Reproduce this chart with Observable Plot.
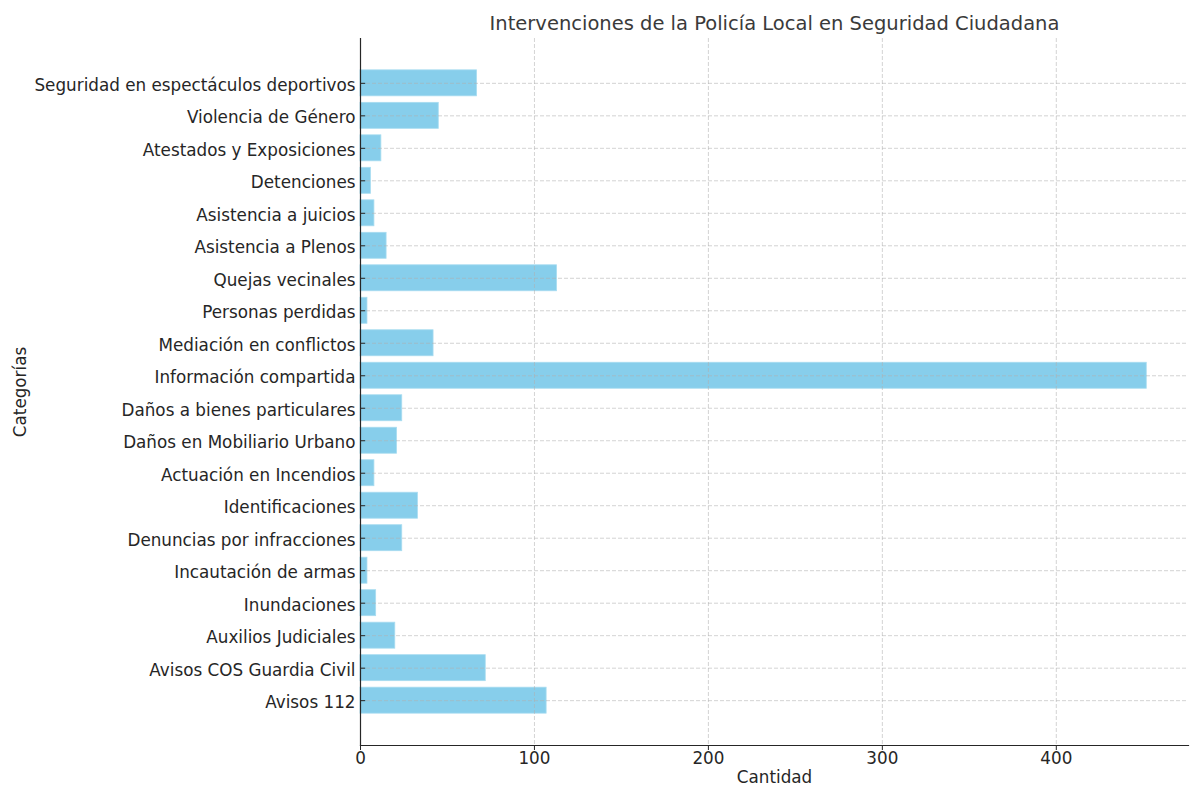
<!DOCTYPE html>
<html>
<head>
<meta charset="utf-8">
<script src="https://cdn.jsdelivr.net/npm/d3@7"></script>
<script src="https://cdn.jsdelivr.net/npm/@observablehq/plot@0.6"></script>
<style>
  html, body { margin: 0; padding: 0; background: #fff; }
  #chart { width: 1190px; height: 786px; }
</style>
</head>
<body>
<div id="chart"></div>
<script>
const categories = [
  "Seguridad en espectáculos deportivos",
  "Violencia de Género",
  "Atestados y Exposiciones",
  "Detenciones",
  "Asistencia a juicios",
  "Asistencia a Plenos",
  "Quejas vecinales",
  "Personas perdidas",
  "Mediación en conflictos",
  "Información compartida",
  "Daños a bienes particulares",
  "Daños en Mobiliario Urbano",
  "Actuación en Incendios",
  "Identificaciones",
  "Denuncias por infracciones",
  "Incautación de armas",
  "Inundaciones",
  "Auxilios Judiciales",
  "Avisos COS Guardia Civil",
  "Avisos 112"
];
const values = [67, 45, 12, 6, 8, 15, 113, 4, 42, 452, 24, 21, 8, 33, 24, 4, 9, 20, 72, 107];
const xTicks = [0, 100, 200, 300, 400];
const title = "Intervenciones de la Policía Local en Seguridad Ciudadana";
const xLabel = "Cantidad";
const yLabel = "Categorías";

const data = categories.map((c, i) => ({category: c, value: values[i]}));

const font = "DejaVu Sans, sans-serif";
const gridStyle = {stroke: "#b0b0b0", strokeOpacity: 0.7, strokeDasharray: "4,2", strokeWidth: 0.8};

const chart = Plot.plot({
  width: 1190,
  height: 786,
  marginTop: 38,
  marginBottom: 41,
  marginLeft: 360,
  marginRight: 2,
  style: {fontFamily: font, fontSize: "16.8px", color: "#262626", background: "#fff"},
  x: {domain: [0, 476]},
  y: {domain: categories, paddingInner: 0.2, paddingOuter: 0.98, round: false},
  marks: [
    Plot.barX(data, {y: "category", x: "value", fill: "#87CEEB", stroke: "#a8dcf0", strokeWidth: 0.8}),
    Plot.gridX({ticks: xTicks.slice(1), ...gridStyle}),
    Plot.gridY({...gridStyle}),
    Plot.axisX({ticks: xTicks, tickSize: 5, tickPadding: 2, fontSize: 16.8, label: null, stroke: "#262626"}),
    Plot.axisY({tickSize: 0, tickPadding: 5, fontSize: 16.8, label: null, dy: 2}),
    Plot.ruleY(categories, {y: d => d, x1: 0, x2: 3, stroke: "#262626", strokeWidth: 1}),
    Plot.frame({anchor: "left", stroke: "#262626", strokeWidth: 1.2}),
    Plot.frame({anchor: "bottom", stroke: "#262626", strokeWidth: 1.2}),
    Plot.text([title], {frameAnchor: "top", dy: -15, fontSize: 19.5, fill: "#3a3a3a", lineAnchor: "middle"}),
    Plot.text([xLabel], {frameAnchor: "bottom", dy: 32.5, fontSize: 16.8, fill: "#262626", lineAnchor: "middle"}),
    Plot.text([yLabel], {frameAnchor: "left", dx: -340, rotate: -90, fontSize: 16.8, fill: "#262626", lineAnchor: "middle", textAnchor: "middle"})
  ]
});
document.getElementById("chart").appendChild(chart);
</script>
</body>
</html>
